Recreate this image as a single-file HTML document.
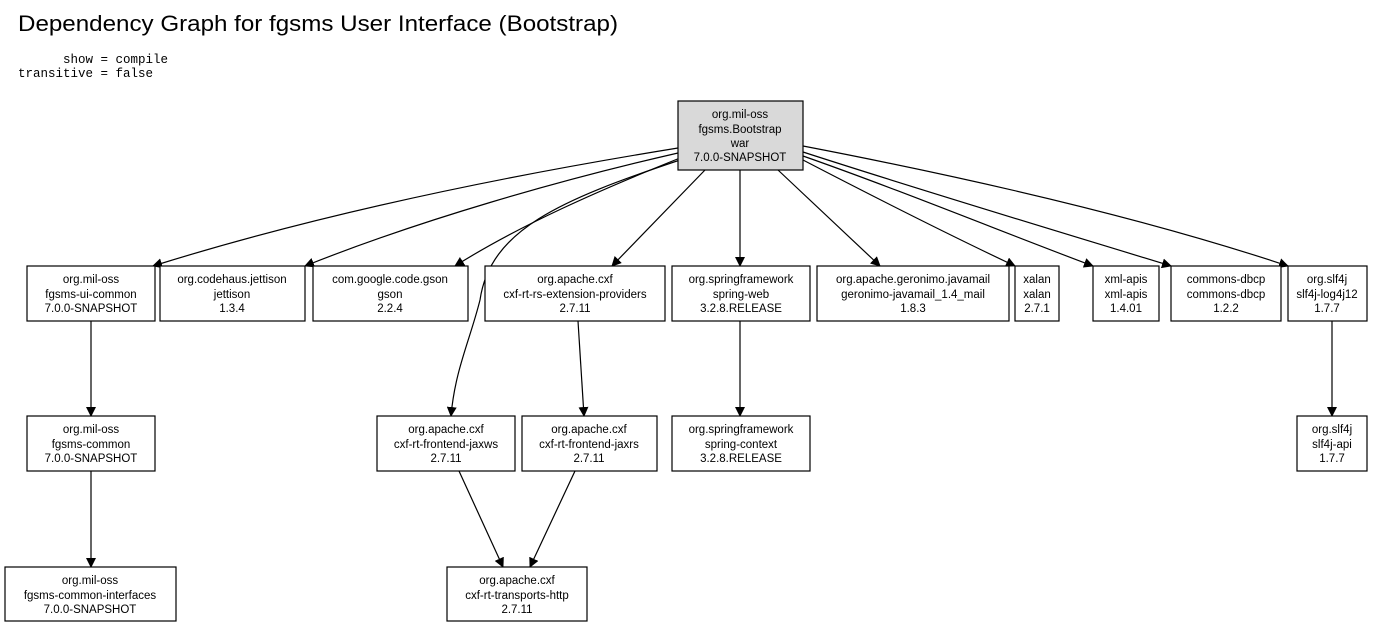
<!DOCTYPE html>
<html><head><meta charset="utf-8"><style>
body{margin:0;background:#fff}
svg text{font-family:"Liberation Sans",sans-serif;font-size:11.5px;fill:#000}
.m{font-family:"Liberation Mono",monospace;font-size:12.5px}
</style></head><body>
<svg width="1384" height="628" viewBox="0 0 1384 628" xmlns="http://www.w3.org/2000/svg">
<defs><marker id="a" markerWidth="10" markerHeight="10" refX="9" refY="5" orient="auto" markerUnits="userSpaceOnUse"><path d="M0,0 L10,5 L0,10 z" fill="#000"/></marker></defs>
<text x="18" y="31" style="font-size:22.5px" textLength="600" lengthAdjust="spacingAndGlyphs">Dependency Graph for fgsms User Interface (Bootstrap)</text>
<text class="m" x="18" y="63" xml:space="preserve">      show = compile</text>
<text class="m" x="18" y="77">transitive = false</text>
<g fill="none" stroke="#000" stroke-width="1.2" marker-end="url(#a)">
<path d="M678,148 C480,180 300,220 153,266"/>
<path d="M678,153 C560,180 420,220 305,266"/>
<path d="M680,158 C600,190 520,225 455,266"/>
<path d="M680,160 C560,200 490,230 480,300 C470,340 455,370 451,416"/>
<path d="M705,170 L612,266"/>
<path d="M740,170 L740,266"/>
<path d="M778,170 L880,266"/>
<path d="M803,160 C880,200 960,240 1015,266"/>
<path d="M803,156 C900,190 1010,235 1093,266"/>
<path d="M803,152 C920,190 1070,235 1171,266"/>
<path d="M803,146 C980,180 1150,220 1288,266"/>
<path d="M91,321 L91,416"/>
<path d="M91,471 L91,567"/>
<path d="M578,321 L584,416"/>
<path d="M740,321 L740,416"/>
<path d="M1332,321 L1332,416"/>
<path d="M459,471 L503,567"/>
<path d="M575,471 L530,567"/>
</g>
<g stroke="#000" stroke-width="1.2" fill="#fff">
<rect x="678" y="101" width="125" height="69" fill="#d9d9d9"/>
<rect x="27" y="266" width="128" height="55"/>
<rect x="160" y="266" width="145" height="55"/>
<rect x="313" y="266" width="155" height="55"/>
<rect x="485" y="266" width="180" height="55"/>
<rect x="672" y="266" width="138" height="55"/>
<rect x="817" y="266" width="192" height="55"/>
<rect x="1015" y="266" width="44" height="55"/>
<rect x="1093" y="266" width="66" height="55"/>
<rect x="1171" y="266" width="110" height="55"/>
<rect x="1288" y="266" width="79" height="55"/>
<rect x="27" y="416" width="128" height="55"/>
<rect x="377" y="416" width="138" height="55"/>
<rect x="522" y="416" width="135" height="55"/>
<rect x="672" y="416" width="138" height="55"/>
<rect x="1297" y="416" width="70" height="55"/>
<rect x="5" y="567" width="171" height="54"/>
<rect x="447" y="567" width="140" height="54"/>
</g>
<g text-anchor="middle">
<text x="740" y="118">org.mil-oss</text><text x="740" y="133">fgsms.Bootstrap</text><text x="740" y="147">war</text><text x="740" y="161">7.0.0-SNAPSHOT</text>
<text x="91" y="283">org.mil-oss</text><text x="91" y="298">fgsms-ui-common</text><text x="91" y="312">7.0.0-SNAPSHOT</text>
<text x="232" y="283">org.codehaus.jettison</text><text x="232" y="298">jettison</text><text x="232" y="312">1.3.4</text>
<text x="390" y="283">com.google.code.gson</text><text x="390" y="298">gson</text><text x="390" y="312">2.2.4</text>
<text x="575" y="283">org.apache.cxf</text><text x="575" y="298">cxf-rt-rs-extension-providers</text><text x="575" y="312">2.7.11</text>
<text x="741" y="283">org.springframework</text><text x="741" y="298">spring-web</text><text x="741" y="312">3.2.8.RELEASE</text>
<text x="913" y="283">org.apache.geronimo.javamail</text><text x="913" y="298">geronimo-javamail_1.4_mail</text><text x="913" y="312">1.8.3</text>
<text x="1037" y="283">xalan</text><text x="1037" y="298">xalan</text><text x="1037" y="312">2.7.1</text>
<text x="1126" y="283">xml-apis</text><text x="1126" y="298">xml-apis</text><text x="1126" y="312">1.4.01</text>
<text x="1226" y="283">commons-dbcp</text><text x="1226" y="298">commons-dbcp</text><text x="1226" y="312">1.2.2</text>
<text x="1327" y="283">org.slf4j</text><text x="1327" y="298">slf4j-log4j12</text><text x="1327" y="312">1.7.7</text>
<text x="91" y="433">org.mil-oss</text><text x="91" y="448">fgsms-common</text><text x="91" y="462">7.0.0-SNAPSHOT</text>
<text x="446" y="433">org.apache.cxf</text><text x="446" y="448">cxf-rt-frontend-jaxws</text><text x="446" y="462">2.7.11</text>
<text x="589" y="433">org.apache.cxf</text><text x="589" y="448">cxf-rt-frontend-jaxrs</text><text x="589" y="462">2.7.11</text>
<text x="741" y="433">org.springframework</text><text x="741" y="448">spring-context</text><text x="741" y="462">3.2.8.RELEASE</text>
<text x="1332" y="433">org.slf4j</text><text x="1332" y="448">slf4j-api</text><text x="1332" y="462">1.7.7</text>
<text x="90" y="584">org.mil-oss</text><text x="90" y="599">fgsms-common-interfaces</text><text x="90" y="613">7.0.0-SNAPSHOT</text>
<text x="517" y="584">org.apache.cxf</text><text x="517" y="599">cxf-rt-transports-http</text><text x="517" y="613">2.7.11</text>
</g>
</svg>
</body></html>
